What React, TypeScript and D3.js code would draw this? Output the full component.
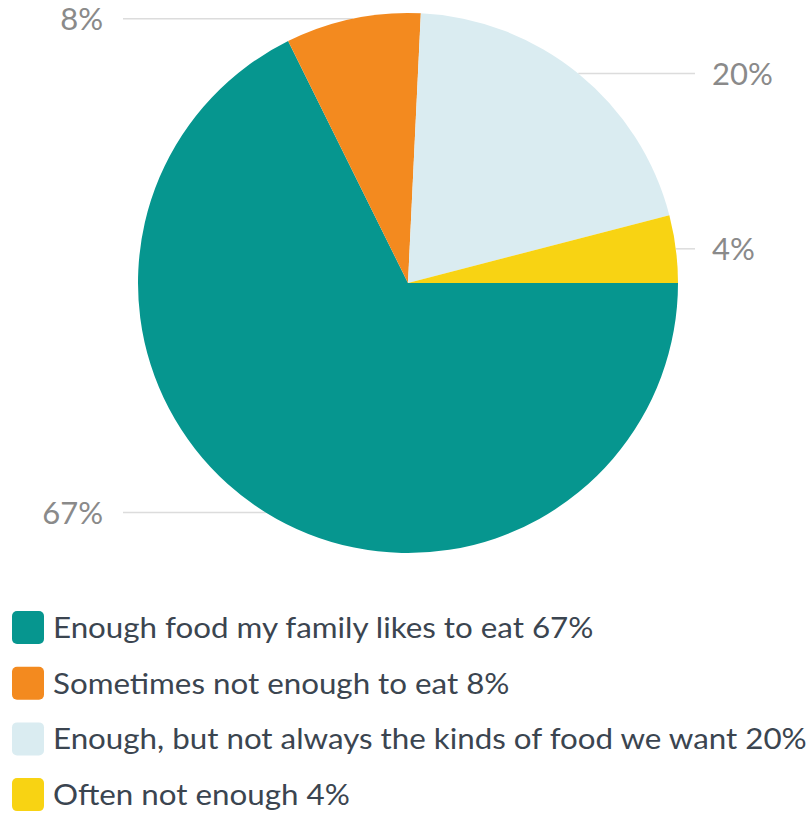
import React from "react";
import * as d3 from "d3";

const categories = [
  "Enough food my family likes to eat",
  "Sometimes not enough to eat",
  "Enough, but not always the kinds of food we want",
  "Often not enough",
];
const values = [67, 8, 20, 4];
const colors = ["#06968f", "#f38a1f", "#daecf1", "#f8d313"];

export default function App() {
  const W = 808;
  const H = 815;
  const cx = 408;
  const cy = 283;
  const r = 270;

  const pie = d3
    .pie<number>()
    .sort(null)
    .value((d) => d)
    .startAngle(Math.PI / 2)
    .endAngle(Math.PI / 2 + 2 * Math.PI);
  const arcs = pie(values);
  const arc = d3.arc<d3.PieArcDatum<number>>().innerRadius(0).outerRadius(r);

  const labelFont = 31;
  const legendFont = 29;

  return (
    <svg
      width={W}
      height={H}
      style={{ position: "absolute", left: 0, top: 0, fontFamily: "Lato, sans-serif" }}
    >
      <rect width={W} height={H} fill="#ffffff" />
      <g>
        {arcs.map((a, i) => {
          const mid = (a.startAngle + a.endAngle) / 2;
          const px = cx + r * Math.sin(mid);
          const py = cy - r * Math.cos(mid);
          const right = px > cx;
          const x2 = right ? 695 : 123;
          return (
            <g key={"l" + i}>
              <line x1={px} y1={py} x2={x2} y2={py} stroke="#dcdcdc" strokeWidth={1.5} />
              <text
                x={right ? 712 : 103}
                y={py}
                dy="0.36em"
                textAnchor={right ? "start" : "end"}
                fontSize={labelFont}
                fill="#8a8a8a"
              >
                {values[i]}%
              </text>
            </g>
          );
        })}
      </g>
      <g transform={`translate(${cx},${cy})`}>
        {arcs.map((a, i) => (
          <path key={i} d={arc(a) || ""} fill={colors[i]} />
        ))}
      </g>
      <g>
        {categories.map((c, i) => {
          const y = 611 + i * 55.7;
          return (
            <g key={"g" + i}>
              <rect x={12} y={y} width={32} height={33} rx={5} fill={colors[i]} />
              <g transform={`translate(53,${y + 16.5}) scale(1.08,1)`}>
                <text x={0} y={0} dy="0.36em" fontSize={legendFont} fill="#3b4550">
                  {c} {values[i]}%
                </text>
              </g>
            </g>
          );
        })}
      </g>
    </svg>
  );
}
